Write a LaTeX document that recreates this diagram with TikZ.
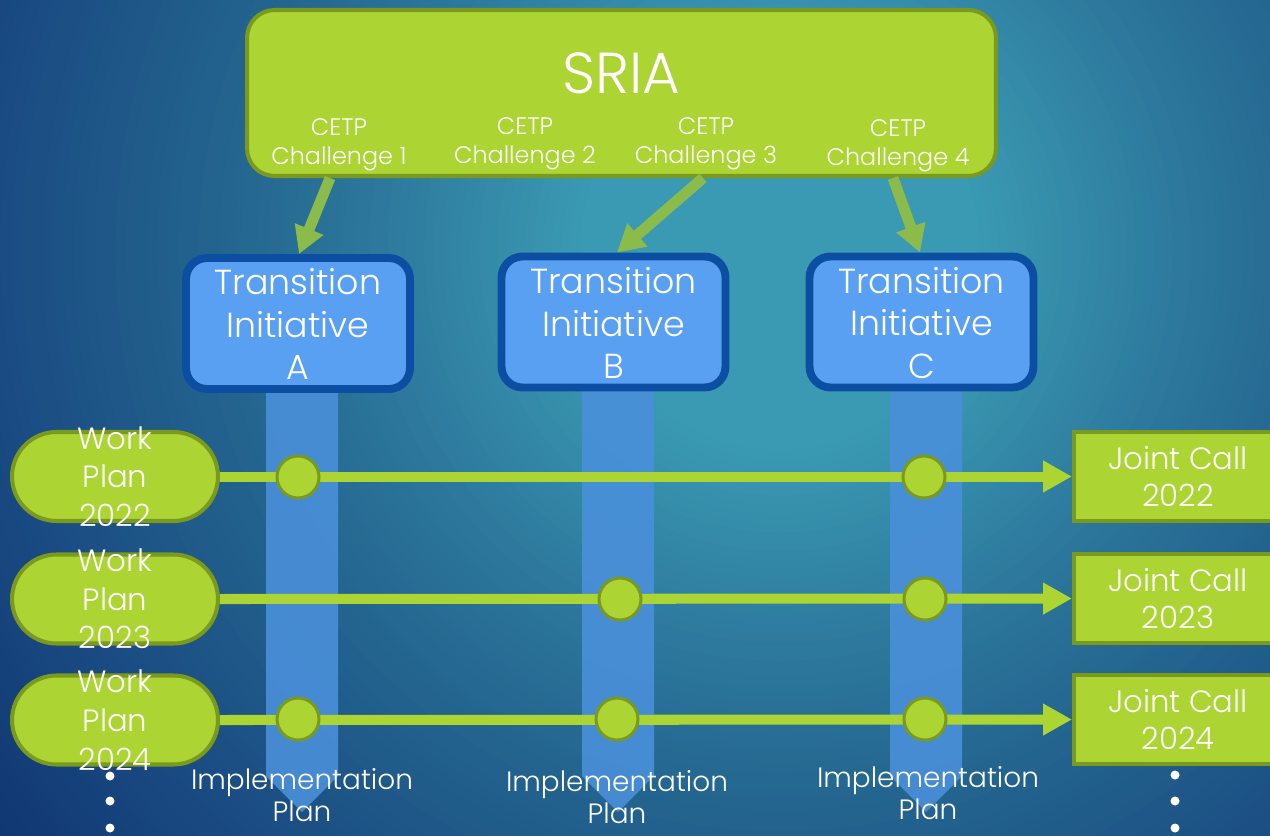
\documentclass[tikz,border=0pt]{standalone}
\usepackage{fontspec}
\setmainfont{Poppins}[UprightFont={* Light}]
\usetikzlibrary{arrows.meta}

% background ramp, from the glow centre outwards
\definecolor{bga}{HTML}{3A9AB3}
\definecolor{bgb}{HTML}{2C769B}
\definecolor{bgc}{HTML}{24668F}
\definecolor{bgd}{HTML}{1A4A82}
\definecolor{bge}{HTML}{0F3570}
\definecolor{limefill}{HTML}{ACD433}
\definecolor{limeedge}{HTML}{7A9A1F}
\definecolor{linkgreen}{HTML}{8BBC4B}
\definecolor{tifill}{HTML}{5AA0F2}
\definecolor{tiedge}{HTML}{0B4EA2}
\definecolor{barblue}{HTML}{4A90DA}

\newcommand{\fsz}[2]{\fontsize{#1pt}{#2pt}\selectfont}

\begin{document}
\begin{tikzpicture}[x=0.02cm,y=-0.02cm,
  sriabox/.style={draw=limeedge, line width=2.3pt, fill=limefill, rounded corners=0.55cm,
    minimum width=14.98cm, minimum height=3.32cm, inner sep=0pt},
  tibox/.style={draw=tiedge, line width=4.5pt, fill=tifill, rounded corners=0.42cm,
    minimum width=4.48cm, minimum height=2.62cm, inner sep=0pt},
  wpbox/.style={draw=limeedge, line width=2.3pt, fill=limefill, rounded corners=0.89cm,
    minimum width=4.12cm, minimum height=1.78cm, inner sep=0pt},
  jcbox/.style={draw=limeedge, line width=2.3pt, fill=limefill,
    minimum width=4.16cm, minimum height=1.78cm, inner sep=0pt},
  milestone/.style={circle, draw=limeedge, line width=1.7pt, fill=limefill,
    minimum size=0.84cm, inner sep=0pt},
  moredot/.style={circle, fill=white, minimum size=0.18cm, inner sep=0pt},
  wtext/.style={text=white, align=center, inner sep=0pt},
  timeline/.style={draw=limefill, line width=5.7pt, -{Triangle[length=0.58cm, width=0.6cm]}},
  link/.style={draw=linkgreen, line width=6.2pt, -{Triangle[length=0.54cm, width=0.58cm]}},
  bar/.style={fill=barblue, fill opacity=0.9}
]
\useasboundingbox (0,0) rectangle (1270,835);

% background: concentric rings stepping from the dark edge to the bright centre
\begin{scope}
  \clip (0,0) rectangle (1270,835);
  \fill[bge] (0,0) rectangle (1270,835);
  \foreach \ra/\rb/\ca/\cb in {800/1000/bgd/bge, 550/800/bgc/bgd, 420/550/bgb/bgc, 200/420/bga/bgb}{
    \foreach \k in {0,...,24}{
      \pgfmathsetmacro\rr{\rb-(\rb-\ra)*\k/24}
      \pgfmathtruncatemacro\pp{100*(1-\k/24)}
      \fill[\cb!\pp!\ca] (780,250) circle (\rr);
    }
  }
  \fill[bga] (780,250) circle (200);
\end{scope}

% implementation plan bars
\fill[bar] (266,385) -- (338,385) -- (338,776) -- (302,812) -- (266,776) -- cycle;
\fill[bar] (582,385) -- (654,385) -- (654,776) -- (618,812) -- (582,776) -- cycle;
\fill[bar] (890,385) -- (962,385) -- (962,776) -- (926,812) -- (890,776) -- cycle;

% SRIA and transition initiatives
\node[sriabox] (sria) at (621.5,93) {};
\node[tibox] (tiA) at (298,323.5) {};
\node[tibox] (tiB) at (613.5,322) {};
\node[tibox] (tiC) at (921.5,322) {};

\draw[link] (sria.south -| 330,0) -- (tiA.north -| 299,0);
\draw[link] (sria.south -| 703,0) -- (tiB.north -| 617,0);
\draw[link] (sria.south -| 893,0) -- (tiC.north -| 920,0);

\node[wtext, font=\fsz{32.9}{38}] (sriat) at (621,73) {SRIA};
\node[wtext, font=\fsz{13.6}{16.4}] (ch1) at (339,145) {CETP\\Challenge 1};
\node[wtext, font=\fsz{13.6}{16.4}] (ch2) at (525,144) {CETP\\Challenge 2};
\node[wtext, font=\fsz{13.6}{16.4}] (ch3) at (706,144) {CETP\\Challenge 3};
\node[wtext, font=\fsz{13.6}{16.4}] (ch4) at (898,146) {CETP\\Challenge 4};

\node[wtext, font=\fsz{19.8}{24.4}] (tiAt) at (298,324) {Transition\\Initiative\\A};
\node[wtext, font=\fsz{19.8}{24.4}] (tiBt) at (613.5,323) {Transition\\Initiative\\B};
\node[wtext, font=\fsz{19.8}{24.4}] (tiCt) at (921.5,323) {Transition\\Initiative\\C};

% work plans and joint calls
\node[wpbox] (wp1) at (115,476.5) {};
\node[wpbox] (wp2) at (115,599) {};
\node[wpbox] (wp3) at (115,720) {};
\node[jcbox] (jc1) at (1178,476.5) {};
\node[jcbox] (jc2) at (1178,598.5) {};
\node[jcbox] (jc3) at (1178,719.5) {};

\draw[timeline] (wp1.east) -- (jc1.west);
\draw[timeline] (wp2.east) -- (jc2.west);
\draw[timeline] (wp3.east) -- (jc3.west);

\node[milestone] (m1a) at (298,477) {};
\node[milestone] (m1c) at (924,477) {};
\node[milestone] (m2b) at (620,599) {};
\node[milestone] (m2c) at (925,599) {};
\node[milestone] (m3a) at (298,719) {};
\node[milestone] (m3b) at (617,719) {};
\node[milestone] (m3c) at (925,719) {};

\node[wtext, font=\fsz{17.5}{22}] (wp1t) at (wp1) {Work\\Plan\\2022};
\node[wtext, font=\fsz{17.5}{22}] (wp2t) at (wp2) {Work\\Plan\\2023};
\node[wtext, font=\fsz{17.5}{22}] (wp3t) at (wp3) {Work\\Plan\\2024};
\node[wtext, font=\fsz{17.5}{21.5}] (jc1t) at (jc1) {Joint Call\\2022};
\node[wtext, font=\fsz{17.5}{21.5}] (jc2t) at (jc2) {Joint Call\\2023};
\node[wtext, font=\fsz{17.5}{21.5}] (jc3t) at (jc3) {Joint Call\\2024};

% implementation plan labels
\node[wtext, font=\fsz{15.9}{18.1}] (ipA) at (302,795) {Implementation\\Plan};
\node[wtext, font=\fsz{15.9}{18.1}] (ipB) at (617,797) {Implementation\\Plan};
\node[wtext, font=\fsz{15.9}{18.1}] (ipC) at (928,793) {Implementation\\Plan};

% continuation dots
\node[moredot] (dl1) at (110,776) {};
\node[moredot] (dl2) at (110,801) {};
\node[moredot] (dl3) at (110,828) {};
\node[moredot] (dr1) at (1175,775) {};
\node[moredot] (dr2) at (1175,801) {};
\node[moredot] (dr3) at (1175,828) {};
\end{tikzpicture}
\end{document}
